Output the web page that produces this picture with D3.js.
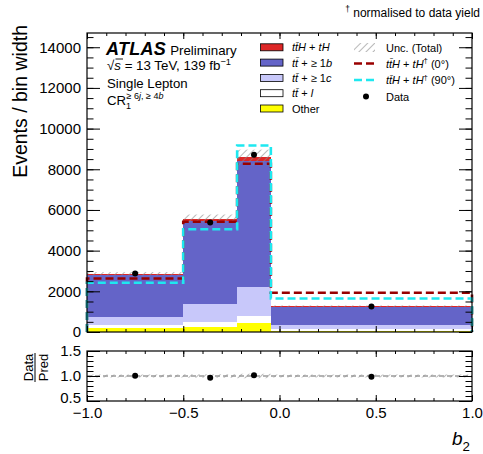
<!DOCTYPE html>
<html><head><meta charset="utf-8">
<script src="https://cdn.jsdelivr.net/npm/d3@7"></script>
<style>
body{margin:0;background:#fff}
svg{display:block;font-family:"Liberation Sans",Arial,Helvetica,sans-serif}
</style>
</head><body>
<svg id="c" width="483" height="454"></svg>
<script>
// ---------- data ----------
const binEdges = [-1.0, -0.5, -0.22, -0.045, 1.0];
const other   = [210, 260, 455, 60];
const ttLight = [150, 215, 330, 90];
const ttC     = [360, 925, 1435, 190];
const ttB     = [2070, 4050, 6180, 900];
const ttH     = [70, 130, 180, 30];
const uncRel  = [0.03, 0.035, 0.045, 0.03];
const sig0    = [2630, 5420, 8270, 1930];
const sig90   = [2420, 5050, 9170, 1650];
const dataVals = [2880, 5380, 8720, 1250];
const yMajorTicks = [0, 2000, 4000, 6000, 8000, 10000, 12000, 14000];
const xMajorTicks = [-1.0, -0.5, 0.0, 0.5, 1.0];
const ratioMajorTicks = [0.5, 1.0, 1.5];

const components = [
  {name:"other", vals: other,   color:"#ffff00"},
  {name:"ttl",   vals: ttLight, color:"#ffffff"},
  {name:"ttc",   vals: ttC,     color:"#c8c8fa"},
  {name:"ttb",   vals: ttB,     color:"#6464c8"},
  {name:"tth",   vals: ttH,     color:"#dd2626"}
];

// ---------- layout ----------
const svg = d3.select("#c");
const L = 87, R = 472, T = 33, B = 332, RT = 351, RB = 401;
const x = d3.scaleLinear().domain([-1, 1]).range([L, R]);
const y = d3.scaleLinear().domain([0, 14700]).range([B, T]);
const yr = d3.scaleLinear().domain([0.5, 1.5]).range([RB, RT]);

// hatch pattern
const defs = svg.append("defs");
const pat = defs.append("pattern").attr("id","hatch").attr("patternUnits","userSpaceOnUse")
  .attr("width",5).attr("height",5).attr("patternTransform","rotate(45)");
pat.append("line").attr("x1",0).attr("y1",0).attr("x2",0).attr("y2",5)
  .attr("stroke","#8a8a8a").attr("stroke-width",1.2);

// ---------- stacked histogram ----------
const nb = dataVals.length;
const pred = d3.range(nb).map(i => d3.sum(components, c => c.vals[i]));
const gStack = svg.append("g").attr("shape-rendering","crispEdges");
const base = new Array(nb).fill(0);
components.forEach(c => {
  for (let i = 0; i < nb; i++) {
    const y0 = base[i], y1 = base[i] + c.vals[i];
    gStack.append("rect")
      .attr("x", x(binEdges[i])).attr("width", x(binEdges[i+1]) - x(binEdges[i]))
      .attr("y", y(y1)).attr("height", y(y0) - y(y1))
      .attr("fill", c.color);
    base[i] = y1;
  }
});
// uncertainty band
for (let i = 0; i < nb; i++) {
  const lo = pred[i]*(1-uncRel[i]), hi = pred[i]*(1+uncRel[i]);
  svg.append("rect")
    .attr("x", x(binEdges[i])).attr("width", x(binEdges[i+1]) - x(binEdges[i]))
    .attr("y", y(hi)).attr("height", y(lo) - y(hi))
    .attr("fill","url(#hatch)");
}

// signal step lines
function stepPts(vals){
  const pts = [[binEdges[0], 0]];
  vals.forEach((v,i) => { pts.push([binEdges[i], v]); pts.push([binEdges[i+1], v]); });
  pts.push([binEdges[nb], 0]);
  return pts;
}
const line = d3.line().x(d => x(d[0])).y(d => y(d[1]));
svg.append("path").attr("d", line(stepPts(sig0))).attr("fill","none")
  .attr("stroke","#990000").attr("stroke-width",2.6).attr("stroke-dasharray","8,4");
svg.append("path").attr("d", line(stepPts(sig90))).attr("fill","none")
  .attr("stroke","#1ee8f0").attr("stroke-width",2.6).attr("stroke-dasharray","8,4");

// data points
const centers = d3.range(nb).map(i => (binEdges[i] + binEdges[i+1]) / 2);
dataVals.forEach((v,i) => {
  const e = Math.sqrt(v);
  svg.append("line").attr("x1",x(centers[i])).attr("x2",x(centers[i]))
    .attr("y1",y(v+e)).attr("y2",y(v-e)).attr("stroke","#000").attr("stroke-width",1.2);
  svg.append("circle").attr("cx",x(centers[i])).attr("cy",y(v)).attr("r",3).attr("fill","#000");
});

// ---------- ratio panel ----------
for (let i = 0; i < nb; i++) {
  svg.append("rect")
    .attr("x", x(binEdges[i])).attr("width", x(binEdges[i+1]) - x(binEdges[i]))
    .attr("y", yr(1+uncRel[i])).attr("height", yr(1-uncRel[i]) - yr(1+uncRel[i]))
    .attr("fill","url(#hatch)");
}
svg.append("line").attr("x1",L).attr("x2",R).attr("y1",yr(1)).attr("y2",yr(1))
  .attr("stroke","#9a9a9a").attr("stroke-width",1.5).attr("stroke-dasharray","5,3");
dataVals.forEach((v,i) => {
  const r = v / pred[i], e = Math.sqrt(v) / pred[i];
  svg.append("line").attr("x1",x(centers[i])).attr("x2",x(centers[i]))
    .attr("y1",yr(r+e)).attr("y2",yr(r-e)).attr("stroke","#000").attr("stroke-width",1.2);
  svg.append("circle").attr("cx",x(centers[i])).attr("cy",yr(r)).attr("r",3).attr("fill","#000");
});

// ---------- axes ----------
function minorRange(a, b, step){ const out=[]; for (let v=a; v<=b+1e-9; v+=step) out.push(+v.toFixed(6)); return out; }
const xMinor = minorRange(-1, 1, 0.1);
const yMinor = minorRange(0, 14500, 500);
const rMinor = minorRange(0.5, 1.5, 0.1);

function styleAxis(g){
  g.select(".domain").remove();
  g.selectAll("line").attr("stroke","#000");
  g.selectAll("text").attr("font-size",15).attr("fill","#000")
    .attr("font-family",'"Liberation Sans",Arial,sans-serif');
}
function addAxis(axis, tx, ty){
  const g = svg.append("g").attr("transform",`translate(${tx},${ty})`).call(axis);
  styleAxis(g); return g;
}
const none = () => "";
// main panel
addAxis(d3.axisLeft(y).tickValues(yMinor).tickSize(-6.5).tickFormat(none), L, 0);
addAxis(d3.axisLeft(y).tickValues(yMajorTicks).tickSize(-13).tickPadding(6).tickFormat(d3.format("d")), L, 0);
addAxis(d3.axisRight(y).tickValues(yMinor).tickSize(-6.5).tickFormat(none), R, 0);
addAxis(d3.axisRight(y).tickValues(yMajorTicks).tickSize(-13).tickFormat(none), R, 0);
addAxis(d3.axisBottom(x).tickValues(xMinor).tickSize(-3).tickFormat(none), 0, B);
addAxis(d3.axisBottom(x).tickValues(xMajorTicks).tickSize(-6).tickFormat(none), 0, B);
addAxis(d3.axisTop(x).tickValues(xMinor).tickSize(-3).tickFormat(none), 0, T);
addAxis(d3.axisTop(x).tickValues(xMajorTicks).tickSize(-6).tickFormat(none), 0, T);
// ratio panel
addAxis(d3.axisLeft(yr).tickValues(rMinor).tickSize(-6.5).tickFormat(none), L, 0);
const rAx = addAxis(d3.axisLeft(yr).tickValues(ratioMajorTicks).tickSize(-13).tickPadding(6).tickFormat(d3.format(".1f")), L, 0);
// lift the lowest ratio label slightly so it does not collide with the x label below
rAx.selectAll(".tick").filter(d => d === ratioMajorTicks[0]).select("text").attr("dy","0.1em");
addAxis(d3.axisRight(yr).tickValues(rMinor).tickSize(-6.5).tickFormat(none), R, 0);
addAxis(d3.axisRight(yr).tickValues(ratioMajorTicks).tickSize(-13).tickFormat(none), R, 0);
addAxis(d3.axisBottom(x).tickValues(xMinor).tickSize(-3).tickFormat(none), 0, RB);
addAxis(d3.axisBottom(x).tickValues(xMajorTicks).tickSize(-6).tickPadding(6).tickFormat(d3.format(".1f")), 0, RB);
addAxis(d3.axisTop(x).tickValues(xMinor).tickSize(-3).tickFormat(none), 0, RT);
addAxis(d3.axisTop(x).tickValues(xMajorTicks).tickSize(-6).tickFormat(none), 0, RT);

// frames
svg.append("rect").attr("x",L).attr("y",T).attr("width",R-L).attr("height",B-T)
  .attr("fill","none").attr("stroke","#000").attr("stroke-width",1.2);
svg.append("rect").attr("x",L).attr("y",RT).attr("width",R-L).attr("height",RB-RT)
  .attr("fill","none").attr("stroke","#000").attr("stroke-width",1.2);

// ---------- text helpers ----------
function richText(parent, px, py, parts, size, anchor){
  const t = parent.append("text").attr("x",px).attr("y",py).attr("font-size",size)
    .attr("text-anchor", anchor || "start").attr("fill","#000");
  let shift = 0;
  parts.forEach(p => {
    const s = t.append("tspan").text(p.t);
    if (p.i) s.attr("font-style","italic");
    if (p.b) s.attr("font-weight","bold");
    if (p.sup) { s.attr("dy", -size*0.4 - shift).attr("font-size", size*0.7); shift = -size*0.4; }
    else if (p.sub) { s.attr("dy", size*0.3 - shift).attr("font-size", size*0.7); shift = size*0.3; }
    else if (shift !== 0) { s.attr("dy", -shift); shift = 0; }
  });
  return t;
}

// axis titles
svg.append("text").attr("transform","translate(27,25) rotate(-90)").attr("text-anchor","end")
  .attr("font-size",19.5).text("Events / bin width");
richText(svg, 452, 445, [{t:"b", i:true},{t:"2", sub:true}], 19);
const rl = svg.append("g").attr("transform","translate(36,367.5) rotate(-90)");
rl.append("text").attr("x",0).attr("y",-3.5).attr("text-anchor","middle").attr("font-size",13).text("Data");
rl.append("text").attr("x",0).attr("y",11.5).attr("text-anchor","middle").attr("font-size",13).text("Pred");
rl.append("line").attr("x1",-14.5).attr("x2",14.5).attr("y1",-1).attr("y2",-1).attr("stroke","#000").attr("stroke-width",1);

// top note
richText(svg, 480, 17, [{t:"†", sup:true},{t:" normalised to data yield"}], 12, "end");

// ATLAS label block
const atl = svg.append("text").attr("x",106).attr("y",55).attr("font-size",18).attr("font-weight","bold")
  .attr("font-style","italic").attr("letter-spacing",0.3).text("ATLAS");
const atlW = atl.node().getComputedTextLength();
svg.append("text").attr("x",Math.max(170, 106 + atlW + 4)).attr("y",55).attr("font-size",13.3).text("Preliminary");
richText(svg, 107, 70, [{t:"√"},{t:"s", i:true},{t:" = 13 TeV, 139 fb"},{t:"−1", sup:true}], 13.3);
// overbar for sqrt
svg.append("line").attr("x1",115.5).attr("x2",123).attr("y1",59).attr("y2",59).attr("stroke","#000").attr("stroke-width",0.9);
svg.append("text").attr("x",107).attr("y",88).attr("font-size",13.2).text("Single Lepton");
const cr = svg.append("text").attr("x",107).attr("y",105).attr("font-size",13.2).text("CR");
const crw = cr.node().getComputedTextLength();
svg.append("text").attr("x",107+crw).attr("y",108.5).attr("font-size",9).text("1");
richText(svg, 107+crw+0.5, 98.5, [{t:"≥ 6"},{t:"j", i:true},{t:", ≥ 4"},{t:"b", i:true}], 9);

// ---------- legend ----------
const leftRows = [
  {parts:[{t:"tt̄H", i:true},{t:" + "},{t:"tH", i:true}], color:"#dd2626"},
  {parts:[{t:"tt̄", i:true},{t:" + ≥ 1"},{t:"b", i:true}], color:"#6464c8"},
  {parts:[{t:"tt̄", i:true},{t:" + ≥ 1"},{t:"c", i:true}], color:"#c8c8fa"},
  {parts:[{t:"tt̄", i:true},{t:" + "},{t:"l", i:true}], color:"#ffffff"},
  {parts:[{t:"Other"}], color:"#ffff00"}
];
leftRows.forEach((r,i) => {
  const cy = 47.3 + i*15.3;
  svg.append("rect").attr("x",260.5).attr("y",cy-3.5).attr("width",22.5).attr("height",7)
    .attr("fill",r.color).attr("stroke","#000").attr("stroke-width",0.8);
  richText(svg, 292, cy+4, r.parts, 11);
});
const rightY = [47.5, 63.5, 80, 96.5];
svg.append("rect").attr("x",354).attr("y",rightY[0]-4.5).attr("width",21).attr("height",9).attr("fill","url(#hatch)");
richText(svg, 386, rightY[0]+4, [{t:"Unc. (Total)"}], 11);
svg.append("line").attr("x1",354).attr("x2",376).attr("y1",rightY[1]).attr("y2",rightY[1])
  .attr("stroke","#990000").attr("stroke-width",2.6).attr("stroke-dasharray","8,4");
richText(svg, 386, rightY[1]+4, [{t:"tt̄H", i:true},{t:" + "},{t:"tH", i:true},{t:"†", sup:true},{t:" (0°)"}], 11);
svg.append("line").attr("x1",354).attr("x2",376).attr("y1",rightY[2]).attr("y2",rightY[2])
  .attr("stroke","#1ee8f0").attr("stroke-width",2.6).attr("stroke-dasharray","8,4");
richText(svg, 386, rightY[2]+4, [{t:"tt̄H", i:true},{t:" + "},{t:"tH", i:true},{t:"†", sup:true},{t:" (90°)"}], 11);
svg.append("circle").attr("cx",366).attr("cy",rightY[3]).attr("r",3).attr("fill","#000");
richText(svg, 386, rightY[3]+4, [{t:"Data"}], 11);
</script>
</body></html>
